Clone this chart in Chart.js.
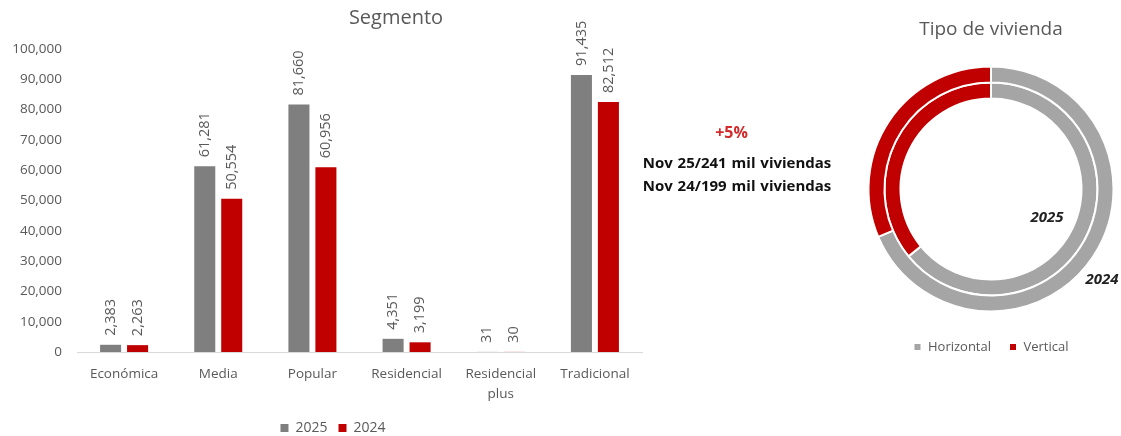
<!DOCTYPE html>
<html>
<head>
<meta charset="utf-8">
<script src="https://cdn.jsdelivr.net/npm/chart.js@4.4.1/dist/chart.umd.min.js"></script>
<style>
  html, body { margin:0; padding:0; background:#fff; overflow:hidden; width:1121px; height:436px; }
  #barBox { position:absolute; left:0; top:0; width:666px; height:445px; }
  #donutBox { position:absolute; left:840px; top:0; width:281px; height:436px; }
  .note { position:absolute; width:200px; text-align:center; font-family:"Open Sans", sans-serif; font-weight:bold; white-space:nowrap; line-height:20px; }
  #n0 { left:631.5px; top:121.7px; font-size:16px; color:#D42A2A; }
  #n1 { left:637px; top:151.7px; font-size:15px; color:#111; word-spacing:1px; }
  #n2 { left:637px; top:175px; font-size:15px; color:#111; word-spacing:1px; }
</style>
</head>
<body>
<div id="barBox"><canvas id="barCanvas"></canvas></div>
<div class="note" id="n0"></div>
<div class="note" id="n1"></div>
<div class="note" id="n2"></div>
<div id="donutBox"><canvas id="donutCanvas"></canvas></div>
<script>
// ---- Data ----
const barTitle = 'Segmento';
const categories = ['Económica', 'Media', 'Popular', 'Residencial', 'Residencial plus', 'Tradicional'];
const seriesNames = ['2025', '2024'];
const values2025 = [2383, 61281, 81660, 4351, 31, 91435];
const values2024 = [2263, 50554, 60956, 3199, 30, 82512];
const yMax = 100000;
const yStep = 10000;

const summaryLines = ['+5%', 'Nov 25/241 mil viviendas', 'Nov 24/199 mil viviendas'];

const donutTitle = 'Tipo de vivienda';
const housingTypes = ['Horizontal', 'Vertical'];
const share2024 = [68.6, 31.4];
const share2025 = [64.1, 35.9];
const ringNames = ['2024', '2025'];

// ---- Styles ----
const FONT = '"Open Sans", sans-serif';
const GRAY_TXT = '#595959';
const BAR_GRAY = '#7F7F7F';
const RED = '#C00000';
const RING_GRAY = '#A5A5A5';

summaryLines.forEach((t, i) => { document.getElementById('n' + i).textContent = t; });

const fmt = v => Number(v).toLocaleString('en-US');

const barValueLabels = {
  id: 'barValueLabels',
  afterDatasetsDraw(chart) {
    const ctx = chart.ctx;
    ctx.save();
    ctx.font = '14.5px ' + FONT;
    ctx.fillStyle = GRAY_TXT;
    ctx.textAlign = 'left';
    ctx.textBaseline = 'middle';
    chart.data.datasets.forEach((ds, i) => {
      chart.getDatasetMeta(i).data.forEach((bar, j) => {
        ctx.save();
        ctx.translate(bar.x, bar.y - 9);
        ctx.rotate(-Math.PI / 2);
        ctx.fillText(fmt(ds.data[j]), 0, 0);
        ctx.restore();
      });
    });
    ctx.restore();
  }
};

const barTitlePlugin = {
  id: 'barTitlePlugin',
  afterDraw(chart) {
    const ctx = chart.ctx;
    ctx.save();
    ctx.font = '20px ' + FONT;
    ctx.fillStyle = GRAY_TXT;
    ctx.textAlign = 'center';
    ctx.textBaseline = 'middle';
    ctx.fillText(barTitle, 396, 18);
    ctx.restore();
  }
};

new Chart(document.getElementById('barCanvas'), {
  type: 'bar',
  data: {
    labels: categories,
    datasets: [
      { label: seriesNames[0], data: values2025, backgroundColor: BAR_GRAY, categoryPercentage: 0.573, barPercentage: 0.78 },
      { label: seriesNames[1], data: values2024, backgroundColor: RED, categoryPercentage: 0.573, barPercentage: 0.78 }
    ]
  },
  options: {
    responsive: true,
    maintainAspectRatio: false,
    animation: false,
    layout: { padding: { top: 49, left: 0, right: 0, bottom: 0 } },
    plugins: {
      legend: {
        position: 'bottom',
        labels: { boxWidth: 8, boxHeight: 8, padding: 11, color: GRAY_TXT, font: { family: FONT, size: 14 } }
      },
      title: { display: false },
      tooltip: { enabled: false }
    },
    scales: {
      x: {
        grid: { display: false, drawTicks: false },
        border: { color: '#D9D9D9', width: 1 },
        ticks: {
          color: GRAY_TXT, padding: 12, maxRotation: 0, autoSkip: false,
          font: { family: FONT, size: 13.5, lineHeight: 1.5 },
          callback: (v, i) => categories[i].length > 12 ? categories[i].split(' ') : categories[i]
        },
        afterFit: s => { s.height = 58; }
      },
      y: {
        min: 0, max: yMax,
        grid: { display: false, drawTicks: false },
        border: { display: false },
        ticks: { stepSize: yStep, padding: 15, color: GRAY_TXT, font: { family: FONT, size: 13.5 }, callback: v => fmt(v) },
        afterFit: s => { s.width = 77; }
      },
      yRight: {
        position: 'right',
        display: true,
        grid: { display: false, drawTicks: false },
        border: { display: false },
        ticks: { display: false },
        afterFit: s => { s.width = 24; }
      }
    }
  },
  plugins: [barValueLabels, barTitlePlugin]
});

const ringLabels = {
  id: 'ringLabels',
  afterDraw(chart) {
    const a = chart.chartArea;
    const cx = (a.left + a.right) / 2, cy = (a.top + a.bottom) / 2;
    const ctx = chart.ctx;
    ctx.save();
    ctx.font = 'italic bold 15px ' + FONT;
    ctx.fillStyle = '#222';
    ctx.textAlign = 'center';
    ctx.textBaseline = 'middle';
    ctx.fillText(ringNames[1], cx + 56, cy + 28.5);
    ctx.fillText(ringNames[0], cx + 111, cy + 90.5);
    ctx.restore();
  }
};

new Chart(document.getElementById('donutCanvas'), {
  type: 'doughnut',
  data: {
    labels: housingTypes,
    datasets: [
      { label: ringNames[0], data: share2024, backgroundColor: [RING_GRAY, RED], borderColor: '#fff', borderWidth: 2 },
      { label: ringNames[1], data: share2025, backgroundColor: [RING_GRAY, RED], borderColor: '#fff', borderWidth: 2 }
    ]
  },
  options: {
    responsive: true,
    maintainAspectRatio: false,
    animation: false,
    cutout: '73.9%',
    layout: { padding: { left: 27.5, right: 6.5, top: 0, bottom: 72.5 } },
    plugins: {
      title: { display: true, text: donutTitle, color: GRAY_TXT, font: { family: FONT, size: 19, weight: 'normal' }, padding: { top: 18.6, bottom: 14.1 } },
      legend: {
        position: 'bottom',
        labels: { boxWidth: 8, boxHeight: 8, padding: 18, color: GRAY_TXT, font: { family: FONT, size: 13 } }
      },
      tooltip: { enabled: false }
    }
  },
  plugins: [ringLabels]
});
</script>
</body>
</html>
